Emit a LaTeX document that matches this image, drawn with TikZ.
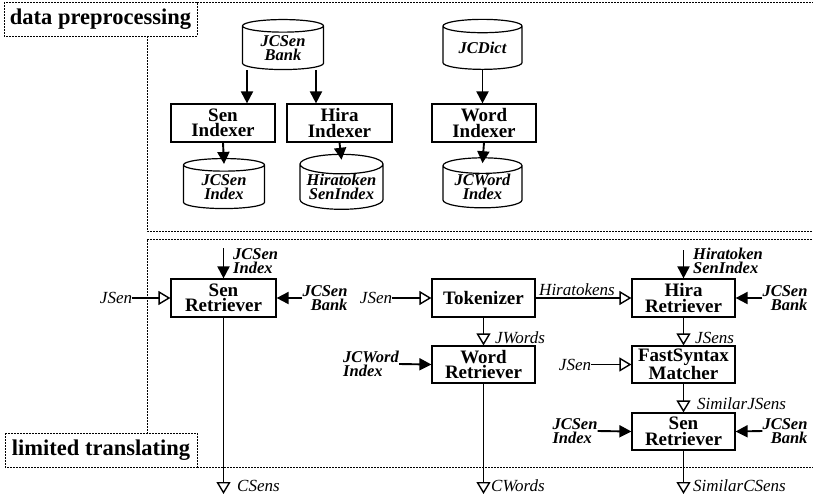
\documentclass[tikz,border=0pt]{standalone}
\usepackage{fontspec}
\setmainfont{Liberation Serif}
\usetikzlibrary{shapes.geometric,arrows.meta}

\tikzset{
  proc/.style={draw, line width=1.2pt, minimum width=104pt, minimum height=38pt,
    inner sep=0pt, align=center, font=\fontsize{19}{15.5}\selectfont\bfseries},
  store/.style={draw, line width=1.2pt, cylinder, shape border rotate=90, aspect=0.28,
    minimum width=80pt, minimum height=50pt, inner sep=0pt, align=center,
    font=\fontsize{16.5}{13.5}\selectfont\bfseries\itshape},
  flowlbl/.style={inner sep=0pt, font=\fontsize{17}{14}\selectfont\itshape},
  storelbl/.style={inner sep=0pt, font=\fontsize{16.5}{13.5}\selectfont\bfseries\itshape},
  dataarr/.style={line width=1.9pt, -{Triangle[length=12pt,width=12pt]}},
  flowarr/.style={line width=1.9pt, -{Triangle[open,length=12pt,width=14pt,line width=1.4pt]}},
  region/.style={line width=0.8pt, dash pattern=on 2pt off 1pt},
  sectionlbl/.style={inner sep=0pt, font=\fontsize{22.5}{24}\selectfont\bfseries}
}

\begin{document}
\begin{tikzpicture}[x=1pt, y=-1pt]
\useasboundingbox (0,0) rectangle (813,498);

% ---- region frames ----
\draw[region] (4,2) rectangle (197,36);
\draw[region] (197,2) -- (815,2);
\draw[region] (147,36) -- (147,231) -- (815,231);
\draw[region] (815,239) -- (147,239) -- (147,433);
\draw[region] (5,433) rectangle (197,467);
\draw[region] (197,467) -- (815,467);
\node[sectionlbl] (secpre) at (100.5,19) {data preprocessing};
\node[sectionlbl] (sectra) at (101,450) {limited translating};

% ---- data preprocessing ----
\node[store, minimum width=81pt] (bank1) at (283,48) {JCSen\\Bank};
\node[proc] (senidx) at (223,123) {Sen\\Indexer};
\node[proc, minimum width=105pt] (hiraidx) at (339.5,123) {Hira\\Indexer};
\node[store, minimum width=81pt] (senindex) at (224,187) {JCSen\\Index};
\node[store, minimum width=83pt] (hiraindex) at (341.5,187) {Hiratoken\\SenIndex};
\node[store, minimum width=79pt] (dict) at (482.5,48) {JCDict};
\node[proc] (wordidx) at (484,123) {Word\\Indexer};
\node[store, minimum width=79pt] (wordindex) at (482.5,187) {JCWord\\Index};

\draw[dataarr] ([xshift=-36pt]bank1.south) -- ([xshift=-36pt]bank1.south |- senidx.north);
\draw[dataarr] ([xshift=33pt]bank1.south) -- ([xshift=33pt]bank1.south |- hiraidx.north);
\draw[dataarr] (senidx.south) -- ([yshift=-6pt]senindex.north);
\draw[dataarr] (hiraidx.south) -- ([yshift=-6pt]hiraindex.north);
\draw[dataarr] (dict.south) -- (dict.south |- wordidx.north);
\draw[dataarr] (wordidx.south) -- ([yshift=-6pt]wordindex.north);

% ---- limited translating ----
\node[proc, minimum width=105pt] (senret1) at (223.5,298) {Sen\\Retriever};
\node[proc, minimum width=103pt] (tok) at (483.5,298) {Tokenizer};
\node[proc, minimum width=103pt] (hiraret) at (683.5,298) {Hira\\Retriever};
\node[proc, minimum width=103pt, minimum height=37pt] (wordret) at (483.5,364.5) {Word\\Retriever};
\node[proc, minimum width=103pt, minimum height=37pt] (fsm) at (683.5,364.5) {FastSyntax\\Matcher};
\node[proc, minimum width=103pt, minimum height=37pt] (senret2) at (683.5,431.5) {Sen\\Retriever};

% left retriever
\coordinate (in1) at (223.5,248);
\node[storelbl, anchor=west, align=left] (lidx1) at (233,261) {JCSen\\Index};
\draw[dataarr] (in1) -- (senret1.north);
\node[flowlbl] (jsen1) at (116,298) {JSen};
\draw[flowarr] (jsen1.east) -- (senret1.west);
\node[storelbl, align=right] (lbank1) at (325,298) {JCSen\\Bank};
\draw[dataarr] (lbank1.west) -- (senret1.east);
\coordinate (out1) at (223.5,494);
\draw[flowarr] (senret1.south) -- (out1);
\node[flowlbl, anchor=west] (csens) at (237,486) {CSens};

% tokenizer and word retriever
\node[flowlbl] (jsen2) at (376,298) {JSen};
\draw[flowarr] (jsen2.east) -- (tok.west);
\draw[flowarr] (tok.east) -- (hiraret.west);
\node[flowlbl] (hiratok) at (577,290) {Hiratokens};
\draw[flowarr] (tok.south) -- (wordret.north);
\node[flowlbl, anchor=west] (jwords) at (495,338) {JWords};
\node[storelbl, align=left] (lwidx) at (371,364) {JCWord\\Index};
\draw[dataarr] (lwidx.east) -- (wordret.west);
\coordinate (out2) at (483.5,494);
\draw[flowarr] (wordret.south) -- (out2);
\node[flowlbl, anchor=west] (cwords) at (491,486) {CWords};

% hira retriever chain
\coordinate (in2) at (683.5,250);
\node[storelbl, anchor=west, align=left] (lhidx) at (693,261) {Hiratoken\\SenIndex};
\draw[dataarr] (in2) -- (hiraret.north);
\node[storelbl, align=right] (lbank2) at (785,298) {JCSen\\Bank};
\draw[dataarr] (lbank2.west) -- (hiraret.east);
\draw[flowarr] (hiraret.south) -- (fsm.north);
\node[flowlbl, anchor=west] (jsens) at (695,338) {JSens};
\node[flowlbl] (jsen3) at (575,364.5) {JSen};
\draw[flowarr] (jsen3.east) -- (fsm.west);
\draw[flowarr] (fsm.south) -- (senret2.north);
\node[flowlbl, anchor=west] (simj) at (697,404) {SimilarJSens};
\node[storelbl, align=left] (lidx2) at (575,431) {JCSen\\Index};
\draw[dataarr] (lidx2.east) -- (senret2.west);
\node[storelbl, align=right] (lbank3) at (785,431) {JCSen\\Bank};
\draw[dataarr] (lbank3.west) -- (senret2.east);
\coordinate (out3) at (683.5,494);
\draw[flowarr] (senret2.south) -- (out3);
\node[flowlbl, anchor=west] (simc) at (693,486) {SimilarCSens};
\end{tikzpicture}
\end{document}
